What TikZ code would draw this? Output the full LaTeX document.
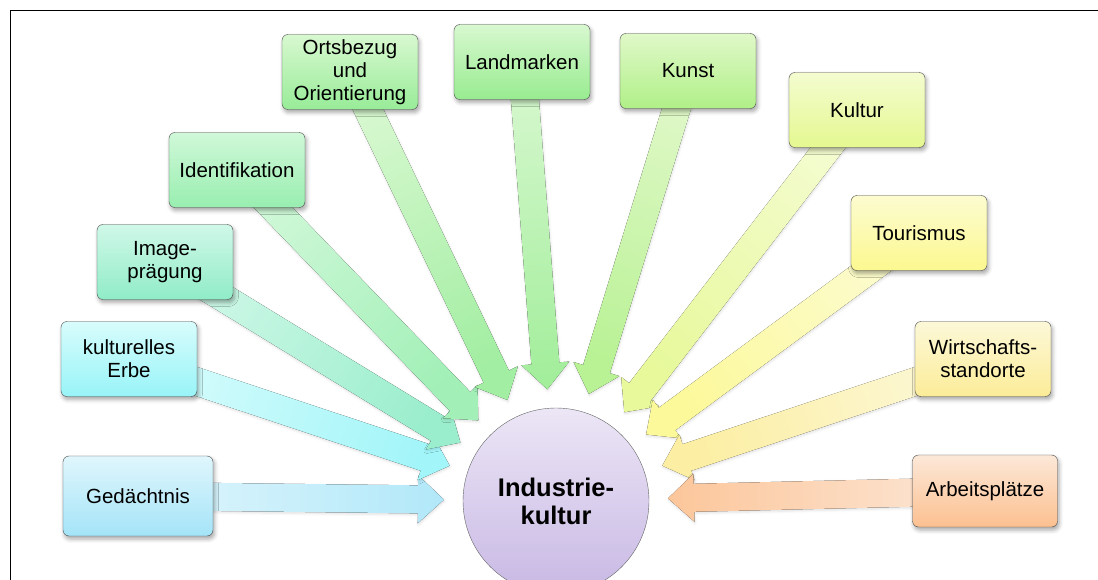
\documentclass[tikz,border=0pt]{standalone}
\usepackage{fontspec}
\setmainfont{Liberation Sans}
\usepackage{tikz}
\usetikzlibrary{calc,shadows.blur}

\definecolor{gedA}{HTML}{E0F6FC}\definecolor{gedB}{HTML}{A4E4F8}
\definecolor{erbeA}{HTML}{D8FCFC}\definecolor{erbeB}{HTML}{98F4F8}
\definecolor{imgA}{HTML}{D0F8E8}\definecolor{imgB}{HTML}{90ECC8}
\definecolor{idA}{HTML}{D0F8D8}\definecolor{idB}{HTML}{98EEB0}
\definecolor{ortA}{HTML}{D8F8D0}\definecolor{ortB}{HTML}{98EC98}
\definecolor{landA}{HTML}{D8F8D0}\definecolor{landB}{HTML}{98EC90}
\definecolor{kunstA}{HTML}{E0F8C8}\definecolor{kunstB}{HTML}{B0F088}
\definecolor{kultA}{HTML}{F4FCD0}\definecolor{kultB}{HTML}{E4F890}
\definecolor{tourA}{HTML}{FCFCD0}\definecolor{tourB}{HTML}{FCF890}
\definecolor{wirtA}{HTML}{FCF8D8}\definecolor{wirtB}{HTML}{FCEC98}
\definecolor{arbA}{HTML}{FCE8D8}\definecolor{arbB}{HTML}{FCC090}
\definecolor{indA}{HTML}{ECE6F6}\definecolor{indB}{HTML}{C8B8E4}

\pgfdeclarelayer{background}
\pgfsetlayers{background,main}

\tikzset{
  topic/.style 2 args={rectangle, rounded corners=6pt, draw=black!70, thin,
    top color=#1, bottom color=#2, minimum width=136pt, minimum height=75pt,
    align=center, inner sep=2pt, font=\fontsize{20.5}{23}\selectfont,
    blur shadow={shadow xshift=1.5pt, shadow yshift=-3pt, shadow blur radius=4pt, shadow opacity=35}},
  arrowbody/.style={blur shadow={shadow xshift=0.5pt, shadow yshift=-1.5pt, shadow blur radius=2.5pt, shadow opacity=12}}
}

% block arrow from box #1 towards the circle #2
\newcommand{\blockarrow}[4]{%
  \pgfmathanglebetweenpoints{\pgfpointanchor{#2}{center}}{\pgfpointanchor{#1}{center}}%
  \pgfmathsetmacro{\arrshade}{\pgfmathresult-90}%
  \coordinate (#1-tip) at ($(#2)!112pt!(#1)$);
  \coordinate (#1-base) at ($(#2)!138pt!(#1)$);
  \fill[arrowbody, top color=#3, bottom color=#4, shading angle=\arrshade]
    ($(#1)!14pt!90:(#2)$) -- ($(#1-base)!14pt!90:(#2)$) -- ($(#1-base)!24pt!90:(#2)$)
    -- (#1-tip) -- ($(#1-base)!24pt!-90:(#2)$) -- ($(#1-base)!14pt!-90:(#2)$)
    -- ($(#1)!14pt!-90:(#2)$) -- cycle;
}

\begin{document}
\begin{tikzpicture}[x=1pt,y=-1pt]
  \useasboundingbox (0,0) rectangle (1098,580);
  \clip (0,0) rectangle (1098,580);

  \draw[line width=1pt] (10,600) -- (10,11) -- (1110,11);

  \node (ind) [circle, draw=black!60, thin, top color=indA, bottom color=indB,
    minimum size=186pt, align=center, font=\bfseries\fontsize{25.5}{28}\selectfont]
    at (556,501) {Industrie-\\kultur};

  \node (ged) [topic={gedA}{gedB}, minimum width=150pt, minimum height=80pt] at (138,496) {Gedächtnis};
  \node (erbe) [topic={erbeA}{erbeB}] at (129,359) {kulturelles\\Erbe};
  \node (image) [topic={imgA}{imgB}] at (165,262) {Image-\\prägung};
  \node (ident) [topic={idA}{idB}] at (237,170) {Identifikation};
  \node (orts) [topic={ortA}{ortB}] at (350,72) {Ortsbezug\\und\\Orientierung};
  \node (land) [topic={landA}{landB}] at (522,62) {Landmarken};
  \node (kunst) [topic={kunstA}{kunstB}] at (688,71) {Kunst};
  \node (kultur) [topic={kultA}{kultB}] at (857,110) {Kultur};
  \node (tour) [topic={tourA}{tourB}] at (919,233) {Tourismus};
  \node (wirt) [topic={wirtA}{wirtB}] at (983,359) {Wirtschafts-\\standorte};
  \node (arbeit) [topic={arbA}{arbB}, minimum width=145pt, minimum height=72pt] at (985,491) {Arbeitsplätze};

  \begin{pgfonlayer}{background}
    \blockarrow{ged}{ind}{gedA}{gedB!85}
    \blockarrow{erbe}{ind}{erbeA}{erbeB!90}
    \blockarrow{image}{ind}{imgA}{imgB!90}
    \blockarrow{ident}{ind}{idA}{idB!90}
    \blockarrow{orts}{ind}{ortA}{ortB!90}
    \blockarrow{land}{ind}{landA}{landB!90}
    \blockarrow{kunst}{ind}{kunstA}{kunstB!90}
    \blockarrow{kultur}{ind}{kultA}{kultB!90}
    \blockarrow{tour}{ind}{tourA}{tourB!90}
    \blockarrow{wirt}{ind}{wirtA}{wirtB!90}
    \blockarrow{arbeit}{ind}{arbA}{arbB!90}
  \end{pgfonlayer}
\end{tikzpicture}
\end{document}
